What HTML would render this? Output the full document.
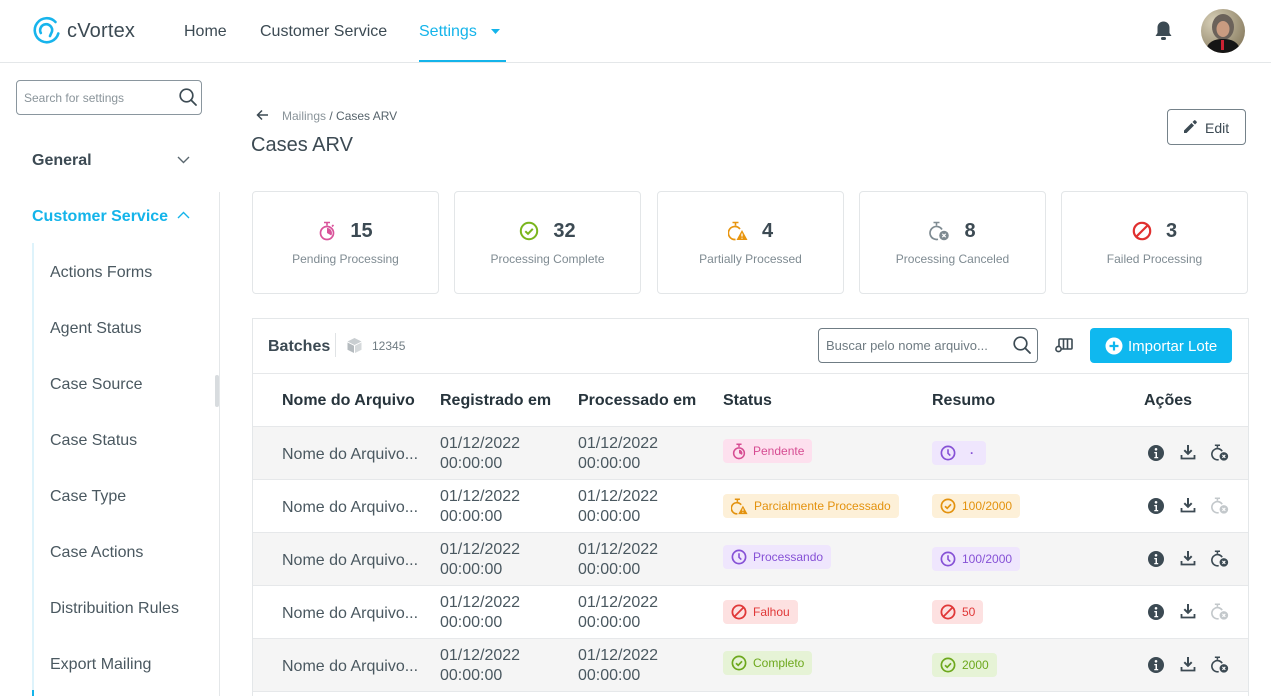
<!DOCTYPE html>
<html><head><meta charset="utf-8">
<style>
*{box-sizing:border-box;margin:0;padding:0}
html,body{width:1271px;height:696px;overflow:hidden}
body{background:#fff;font-family:"Liberation Sans",Arial,sans-serif;color:#3c4a53;position:relative}
#wrap{position:relative;width:1271px;height:696px;overflow:hidden}
.a{position:absolute;white-space:nowrap}
.hdr{position:absolute;left:0;top:0;width:1271px;height:63px;border-bottom:1px solid #e4e7e9}
.nav{font-size:16px;color:#3c4a53;top:23px}
.side-item{position:absolute;left:50px;font-size:16px;color:#4a5860}
.card{position:absolute;top:191px;width:187px;height:103px;border:1px solid #e3e6e8;border-radius:4px}
.card .row{position:absolute;left:0;right:0;top:27px;display:flex;justify-content:center;align-items:center;gap:14px;font-size:20px;font-weight:bold;color:#3c4a53;height:24px}
.card .lbl{position:absolute;left:0;right:0;top:60px;text-align:center;font-size:12px;color:#7f8b92}
.th{position:absolute;top:392px;font-size:16px;font-weight:bold;color:#27343c}
.tr{position:absolute;left:253px;width:995px;height:53px;border-bottom:1px solid #e6e8ea}
.tr.g{background:#f5f5f5}
.cell{position:absolute;font-size:16px;color:#4a5860}
.dt{position:absolute;font-size:16px;line-height:20px;color:#4a5860}
.chip{position:absolute;height:24px;display:flex;align-items:center;gap:6px;padding:0 8px;border-radius:4px;font-size:12px}
.chip svg{flex:none}
.pink{background:#fde0ee;color:#d64c92}
.org{background:#fdf0d8;color:#e3920e}
.pur{background:#efe6fd;color:#8651d6}
.red{background:#fde1e1;color:#e03838}
.grn{background:#e6f3d6;color:#6da81d}
.act{position:absolute}
</style></head><body><div id="wrap">

<!-- header -->
<div class="hdr"></div>
<svg class="a" style="left:31px;top:15px" width="31" height="31" viewBox="0 0 31 31">
  <path d="M24.5 7 A12 12 0 1 0 27.3 18.5" fill="none" stroke="#17b4ec" stroke-width="2.6" stroke-linecap="round"/>
  <path d="M9.8 18 A6 6 0 1 1 21 16.5 L19 21" fill="none" stroke="#17b4ec" stroke-width="2.6" stroke-linecap="round" stroke-linejoin="round"/>
</svg>
<div class="a" style="left:67px;top:20px;font-size:20px;color:#3c4a53;letter-spacing:0.2px">cVortex</div>
<div class="a nav" style="left:184px">Home</div>
<div class="a nav" style="left:260px">Customer Service</div>
<div class="a nav" style="left:419px;color:#14b4ea">Settings</div>
<svg class="a" style="left:491px;top:29px" width="9" height="5" viewBox="0 0 9 5"><path d="M0 0 L9 0 L4.5 5Z" fill="#14b4ea"/></svg>
<div class="a" style="left:419px;top:60px;width:87px;height:2px;background:#14b4ea"></div>
<svg class="a" style="left:1154px;top:20px" width="19" height="22" viewBox="0 0 19 22"><path d="M9.5 1.5c-3.5 0-6 2.6-6 6v5.5L1.5 16h16l-2-3V7.5c0-3.4-2.5-6-6-6z" fill="#3c4a53"/><rect x="7" y="17" width="5" height="3" rx="1.5" fill="#3c4a53"/></svg>
<svg class="a" style="left:1201px;top:9px" width="44" height="44" viewBox="0 0 44 44">
  <defs><clipPath id="cp"><circle cx="22" cy="22" r="22"/></clipPath>
  <radialGradient id="bg" cx="0.3" cy="0.3" r="0.8"><stop offset="0" stop-color="#d8d0b8"/><stop offset="1" stop-color="#8a7e62"/></radialGradient></defs>
  <g clip-path="url(#cp)">
   <rect width="44" height="44" fill="url(#bg)"/>
   <ellipse cx="22" cy="18" rx="11" ry="13" fill="#6b625a"/>
   <ellipse cx="22" cy="20" rx="6.5" ry="8" fill="#c99b80"/>
   <path d="M4 44 C6 32 14 30 22 30 C30 30 38 32 40 44Z" fill="#151515"/>
   <rect x="20" y="31" width="3" height="10" fill="#c23"/>
  </g>
</svg>

<!-- sidebar -->
<div class="a" style="left:16px;top:80px;width:186px;height:35px;border:1px solid #8a969e;border-radius:4px"></div>
<div class="a" style="left:24px;top:91px;font-size:12px;color:#8a949a">Search for settings</div>
<svg class="a" style="left:178px;top:87px" width="20" height="20" viewBox="0 0 20 20"><circle cx="8.5" cy="8.5" r="6.3" fill="none" stroke="#3c4a53" stroke-width="1.7"/><path d="M13 13 L18 18" stroke="#3c4a53" stroke-width="1.8" stroke-linecap="round"/></svg>
<div class="a" style="left:32px;top:152px;font-size:16px;font-weight:bold;color:#3c4a53">General</div>
<svg class="a" style="left:177px;top:156px" width="13" height="8" viewBox="0 0 13 8"><path d="M1 1 L6.5 6.5 L12 1" fill="none" stroke="#5a676f" stroke-width="1.4"/></svg>
<div class="a" style="left:32px;top:208px;font-size:16px;font-weight:bold;color:#14b4ea">Customer Service</div>
<svg class="a" style="left:177px;top:211px" width="13" height="8" viewBox="0 0 13 8"><path d="M1 7 L6.5 1.5 L12 7" fill="none" stroke="#14b4ea" stroke-width="1.4"/></svg>
<div class="a" style="left:219px;top:192px;width:1px;height:504px;background:#e4e7e9"></div>
<div class="a" style="left:215px;top:375px;width:4px;height:32px;background:#d8dcdf;border-radius:2px"></div>
<div class="a" style="left:32px;top:243px;width:2px;height:453px;background:#def3fb"></div>
<div class="a" style="left:32px;top:690px;width:2px;height:6px;background:#14b4ea"></div>
<div class="side-item" style="top:264px">Actions Forms</div>
<div class="side-item" style="top:320px">Agent Status</div>
<div class="side-item" style="top:376px">Case Source</div>
<div class="side-item" style="top:432px">Case Status</div>
<div class="side-item" style="top:488px">Case Type</div>
<div class="side-item" style="top:544px">Case Actions</div>
<div class="side-item" style="top:600px">Distribuition Rules</div>
<div class="side-item" style="top:656px">Export Mailing</div>

<!-- breadcrumb -->
<svg class="a" style="left:256px;top:109px" width="13" height="12" viewBox="0 0 13 12"><path d="M12 6 H2 M6 1.5 L1.5 6 L6 10.5" fill="none" stroke="#3c4a53" stroke-width="1.5"/></svg>
<div class="a" style="left:282px;top:109px;font-size:12px;color:#8a949a">Mailings <span style="color:#56636b">/ Cases ARV</span></div>
<div class="a" style="left:251px;top:134px;font-size:20px;color:#3c4a53;font-weight:500">Cases ARV</div>
<div class="a" style="left:1167px;top:109px;width:79px;height:36px;border:1px solid #75828a;border-radius:4px"></div>
<svg class="a" style="left:1183px;top:119px" width="15" height="15" viewBox="0 0 15 15"><path d="M1 11.5 L1 14 L3.5 14 L11 6.5 L8.5 4Z M9.5 3 L12 5.5 L13.5 4 C14 3.5 14 3 13.5 2.5 L12.5 1.5 C12 1 11.5 1 11 1.5Z" fill="#3c4a53"/></svg>
<div class="a" style="left:1205px;top:120px;font-size:14px;color:#3c4a53">Edit</div>

<!-- cards -->
<div class="card" style="left:252px"><div class="row">
 <svg width="18" height="20" viewBox="0 0 18 20"><path d="M6 1.5h6M9 1.5v3" stroke="#d9539a" stroke-width="1.6"/><circle cx="9" cy="12" r="6.5" fill="none" stroke="#d9539a" stroke-width="1.7"/><path d="M9 12 V7 A5 5 0 0 1 13.3 14.5Z" fill="#d9539a"/><path d="M14 5.5 l1.5 -1.5" stroke="#d9539a" stroke-width="1.6"/></svg><span>15</span></div>
 <div class="lbl">Pending Processing</div></div>
<div class="card" style="left:454px"><div class="row">
 <svg width="20" height="20" viewBox="0 0 20 20"><circle cx="10" cy="10" r="8.2" fill="none" stroke="#7ab51d" stroke-width="2"/><path d="M6.3 10.2 L9 12.8 L13.8 7.8" fill="none" stroke="#7ab51d" stroke-width="2"/></svg><span>32</span></div>
 <div class="lbl">Processing Complete</div></div>
<div class="card" style="left:657px"><div class="row">
 <svg width="20" height="20" viewBox="0 0 20 20"><path d="M4.5 1.5h6M7.5 1.5v3" stroke="#e8950f" stroke-width="1.6"/><path d="M12 8 A6.5 6.5 0 1 0 7.5 18.5" fill="none" stroke="#e8950f" stroke-width="1.7"/><path d="M14 9 L19.5 19 L8.5 19Z" fill="#e8950f"/><path d="M14 12.5v3M14 16.8v.8" stroke="#fff" stroke-width="1.3"/></svg><span>4</span></div>
 <div class="lbl">Partially Processed</div></div>
<div class="card" style="left:859px"><div class="row">
 <svg width="21" height="20" viewBox="0 0 21 20"><path d="M4.5 1.5h6M7.5 1.5v3" stroke="#7f8b92" stroke-width="1.6"/><path d="M13 8.5 A6.5 6.5 0 1 0 9 18.3" fill="none" stroke="#7f8b92" stroke-width="1.7"/><circle cx="15" cy="14.5" r="4.8" fill="#7f8b92"/><path d="M13.3 12.8l3.4 3.4M16.7 12.8l-3.4 3.4" stroke="#fff" stroke-width="1.2"/></svg><span>8</span></div>
 <div class="lbl">Processing Canceled</div></div>
<div class="card" style="left:1061px"><div class="row">
 <svg width="20" height="20" viewBox="0 0 20 20"><circle cx="10" cy="10" r="8.2" fill="none" stroke="#e0302f" stroke-width="2.2"/><path d="M4.3 15.7 L15.7 4.3" stroke="#e0302f" stroke-width="2.2"/></svg><span>3</span></div>
 <div class="lbl">Failed Processing</div></div>

<!-- table panel -->
<div class="a" style="left:252px;top:318px;width:997px;height:378px;border:1px solid #e4e7e9;border-bottom:none"></div>
<div class="a" style="left:268px;top:338px;font-size:16px;font-weight:bold;color:#3c4a53">Batches</div>
<div class="a" style="left:335px;top:333px;width:1px;height:24px;background:#e0e3e5"></div>
<svg class="a" style="left:346px;top:337px" width="17" height="17" viewBox="0 0 17 17"><path d="M8.5 1 L15.5 4.5 L8.5 8 L1.5 4.5Z" fill="#c9ced1"/><path d="M1.5 5.5 L8 8.8 V16 L1.5 12.7Z" fill="#b5bbbf"/><path d="M15.5 5.5 L9 8.8 V16 L15.5 12.7Z" fill="#d5d9db"/></svg>
<div class="a" style="left:372px;top:339px;font-size:12px;color:#6f7b82">12345</div>
<div class="a" style="left:818px;top:328px;width:220px;height:35px;border:1px solid #6f7c84;border-radius:4px"></div>
<div class="a" style="left:826px;top:338px;font-size:13px;color:#6f7b82">Buscar pelo nome arquivo...</div>
<svg class="a" style="left:1012px;top:335px" width="20" height="20" viewBox="0 0 20 20"><circle cx="8.5" cy="8.5" r="6.3" fill="none" stroke="#3c4a53" stroke-width="1.7"/><path d="M13 13 L18 18" stroke="#3c4a53" stroke-width="1.8" stroke-linecap="round"/></svg>
<svg class="a" style="left:1055px;top:337px" width="18" height="16" viewBox="0 0 18 16"><rect x="4" y="2" width="13" height="10" rx="1" fill="none" stroke="#3c4a53" stroke-width="1.6"/><path d="M8.5 2v10M12.5 2v10" stroke="#3c4a53" stroke-width="1.6"/><circle cx="3.5" cy="12" r="2.6" fill="#fff" stroke="#3c4a53" stroke-width="1.6"/></svg>
<div class="a" style="left:1090px;top:328px;width:142px;height:35px;background:#0fb8ef;border-radius:4px"></div>
<svg class="a" style="left:1105px;top:337px" width="18" height="18" viewBox="0 0 18 18"><circle cx="9" cy="9" r="8.5" fill="#fff"/><path d="M9 4.5v9M4.5 9h9" stroke="#0fb8ef" stroke-width="2.2"/></svg>
<div class="a" style="left:1128px;top:338px;font-size:15px;font-weight:500;color:#fff">Importar Lote</div>
<div class="a" style="left:253px;top:373px;width:995px;height:1px;background:#e6e8ea"></div>

<div class="th" style="left:282px">Nome do Arquivo</div>
<div class="th" style="left:440px">Registrado em</div>
<div class="th" style="left:578px">Processado em</div>
<div class="th" style="left:723px">Status</div>
<div class="th" style="left:932px">Resumo</div>
<div class="th" style="left:1144px">Ações</div>
<div class="a" style="left:253px;top:426px;width:995px;height:1px;background:#e6e8ea"></div>

<div class="tr g" style="top:427px"></div>
<div class="tr" style="top:480px"></div>
<div class="tr g" style="top:533px"></div>
<div class="tr" style="top:586px"></div>
<div class="tr g" style="top:639px"></div>

<!-- rows text -->
<div class="cell a" style="left:282px;top:446px">Nome do Arquivo...</div>
<div class="dt a" style="left:440px;top:434px">01/12/2022<br>00:00:00</div>
<div class="dt a" style="left:578px;top:434px">01/12/2022<br>00:00:00</div>
<div class="cell a" style="left:282px;top:499px">Nome do Arquivo...</div>
<div class="dt a" style="left:440px;top:487px">01/12/2022<br>00:00:00</div>
<div class="dt a" style="left:578px;top:487px">01/12/2022<br>00:00:00</div>
<div class="cell a" style="left:282px;top:552px">Nome do Arquivo...</div>
<div class="dt a" style="left:440px;top:540px">01/12/2022<br>00:00:00</div>
<div class="dt a" style="left:578px;top:540px">01/12/2022<br>00:00:00</div>
<div class="cell a" style="left:282px;top:605px">Nome do Arquivo...</div>
<div class="dt a" style="left:440px;top:593px">01/12/2022<br>00:00:00</div>
<div class="dt a" style="left:578px;top:593px">01/12/2022<br>00:00:00</div>
<div class="cell a" style="left:282px;top:658px">Nome do Arquivo...</div>
<div class="dt a" style="left:440px;top:646px">01/12/2022<br>00:00:00</div>
<div class="dt a" style="left:578px;top:646px">01/12/2022<br>00:00:00</div>

<!-- status chips -->
<div class="chip pink" style="left:723px;top:439px"><svg width="16" height="17" viewBox="0 0 18 20"><path d="M6 1.5h6M9 1.5v3" stroke="#d64c92" stroke-width="1.8"/><circle cx="9" cy="12" r="6.3" fill="none" stroke="#d64c92" stroke-width="1.8"/><path d="M9 12 V8 A4 4 0 0 1 12.5 14Z" fill="#d64c92"/></svg>Pendente</div>
<div class="chip org" style="left:723px;top:494px"><svg width="17" height="17" viewBox="0 0 20 20"><path d="M4.5 1.5h6M7.5 1.5v3" stroke="#e3920e" stroke-width="1.8"/><path d="M12 8 A6.5 6.5 0 1 0 7.5 18.5" fill="none" stroke="#e3920e" stroke-width="1.9"/><path d="M14 9 L19.5 19 L8.5 19Z" fill="#e3920e"/><path d="M14 12.5v3M14 16.8v.8" stroke="#fdf0d8" stroke-width="1.3"/></svg>Parcialmente Processado</div>
<div class="chip pur" style="left:723px;top:545px"><svg width="16" height="16" viewBox="0 0 16 16"><circle cx="8" cy="8" r="6.6" fill="none" stroke="#8651d6" stroke-width="1.7"/><path d="M8 4.3V8.3L10.3 10.6" fill="none" stroke="#8651d6" stroke-width="1.6"/></svg>Processando</div>
<div class="chip red" style="left:723px;top:600px"><svg width="16" height="16" viewBox="0 0 16 16"><circle cx="8" cy="8" r="6.6" fill="none" stroke="#e03838" stroke-width="1.8"/><path d="M3.4 12.6 L12.6 3.4" stroke="#e03838" stroke-width="1.8"/></svg>Falhou</div>
<div class="chip grn" style="left:723px;top:651px"><svg width="16" height="16" viewBox="0 0 16 16"><circle cx="8" cy="8" r="6.6" fill="none" stroke="#6da81d" stroke-width="1.7"/><path d="M5 8.2 L7.2 10.3 L11 6.3" fill="none" stroke="#6da81d" stroke-width="1.7"/></svg>Completo</div>

<!-- resumo chips -->
<div class="chip pur" style="left:932px;top:441px;width:54px"><svg width="16" height="16" viewBox="0 0 16 16"><circle cx="8" cy="8" r="6.6" fill="none" stroke="#8651d6" stroke-width="1.7"/><path d="M8 4.3V8.3L10.3 10.6" fill="none" stroke="#8651d6" stroke-width="1.6"/></svg><span style="margin-left:8px;font-weight:bold">·</span></div>
<div class="chip org" style="left:932px;top:494px"><svg width="16" height="16" viewBox="0 0 16 16"><circle cx="8" cy="8" r="6.6" fill="none" stroke="#e3920e" stroke-width="1.7"/><path d="M5 8.2 L7.2 10.3 L11 6.3" fill="none" stroke="#e3920e" stroke-width="1.7"/></svg>100/2000</div>
<div class="chip pur" style="left:932px;top:547px"><svg width="16" height="16" viewBox="0 0 16 16"><circle cx="8" cy="8" r="6.6" fill="none" stroke="#8651d6" stroke-width="1.7"/><path d="M8 4.3V8.3L10.3 10.6" fill="none" stroke="#8651d6" stroke-width="1.6"/></svg>100/2000</div>
<div class="chip red" style="left:932px;top:600px"><svg width="16" height="16" viewBox="0 0 16 16"><circle cx="8" cy="8" r="6.6" fill="none" stroke="#e03838" stroke-width="1.8"/><path d="M3.4 12.6 L12.6 3.4" stroke="#e03838" stroke-width="1.8"/></svg>50</div>
<div class="chip grn" style="left:932px;top:653px"><svg width="16" height="16" viewBox="0 0 16 16"><circle cx="8" cy="8" r="6.6" fill="none" stroke="#6da81d" stroke-width="1.7"/><path d="M5 8.2 L7.2 10.3 L11 6.3" fill="none" stroke="#6da81d" stroke-width="1.7"/></svg>2000</div>

<!-- action icons -->
<svg width="0" height="0" style="position:absolute">
 <defs>
  <g id="info"><circle cx="8" cy="8" r="8" fill="#3c4a53"/><circle cx="8" cy="4.3" r="1.3" fill="#fff"/><path d="M6.3 7h2.7v5h1.2v1.3H6.3V12h1.2V8.3H6.3Z" fill="#fff"/></g>
  <g id="dl"><path d="M8 1v8.5M4.3 6.2 L8 9.8 L11.7 6.2" fill="none" stroke="#3c4a53" stroke-width="2"/><path d="M1.5 11v3.5h13V11" fill="none" stroke="#3c4a53" stroke-width="1.8"/></g>
 </defs>
</svg>
<div class="act" style="left:1148px;top:445px"><svg width="16" height="16"><use href="#info"/></svg></div>
<div class="act" style="left:1180px;top:444px"><svg width="16" height="16"><use href="#dl"/></svg></div>
<div class="act" style="left:1148px;top:498px"><svg width="16" height="16"><use href="#info"/></svg></div>
<div class="act" style="left:1180px;top:497px"><svg width="16" height="16"><use href="#dl"/></svg></div>
<div class="act" style="left:1148px;top:551px"><svg width="16" height="16"><use href="#info"/></svg></div>
<div class="act" style="left:1180px;top:550px"><svg width="16" height="16"><use href="#dl"/></svg></div>
<div class="act" style="left:1148px;top:604px"><svg width="16" height="16"><use href="#info"/></svg></div>
<div class="act" style="left:1180px;top:603px"><svg width="16" height="16"><use href="#dl"/></svg></div>
<div class="act" style="left:1148px;top:657px"><svg width="16" height="16"><use href="#info"/></svg></div>
<div class="act" style="left:1180px;top:656px"><svg width="16" height="16"><use href="#dl"/></svg></div>

<!-- cancel timers -->
<svg class="act" style="left:1211px;top:443px" width="18" height="19" viewBox="0 0 21 20"><path d="M4.5 1.5h6M7.5 1.5v3" stroke="#3c4a53" stroke-width="1.8"/><path d="M13 8.5 A6.5 6.5 0 1 0 9 18.3" fill="none" stroke="#3c4a53" stroke-width="1.9"/><circle cx="15" cy="14.5" r="5" fill="#3c4a53"/><path d="M13.3 12.8l3.4 3.4M16.7 12.8l-3.4 3.4" stroke="#fff" stroke-width="1.3"/></svg>
<svg class="act" style="left:1211px;top:496px" width="18" height="19" viewBox="0 0 21 20"><path d="M4.5 1.5h6M7.5 1.5v3" stroke="#c3c8cb" stroke-width="1.8"/><path d="M13 8.5 A6.5 6.5 0 1 0 9 18.3" fill="none" stroke="#c3c8cb" stroke-width="1.9"/><circle cx="15" cy="14.5" r="5" fill="#c3c8cb"/><path d="M13.3 12.8l3.4 3.4M16.7 12.8l-3.4 3.4" stroke="#fff" stroke-width="1.3"/></svg>
<svg class="act" style="left:1211px;top:549px" width="18" height="19" viewBox="0 0 21 20"><path d="M4.5 1.5h6M7.5 1.5v3" stroke="#3c4a53" stroke-width="1.8"/><path d="M13 8.5 A6.5 6.5 0 1 0 9 18.3" fill="none" stroke="#3c4a53" stroke-width="1.9"/><circle cx="15" cy="14.5" r="5" fill="#3c4a53"/><path d="M13.3 12.8l3.4 3.4M16.7 12.8l-3.4 3.4" stroke="#fff" stroke-width="1.3"/></svg>
<svg class="act" style="left:1211px;top:602px" width="18" height="19" viewBox="0 0 21 20"><path d="M4.5 1.5h6M7.5 1.5v3" stroke="#c3c8cb" stroke-width="1.8"/><path d="M13 8.5 A6.5 6.5 0 1 0 9 18.3" fill="none" stroke="#c3c8cb" stroke-width="1.9"/><circle cx="15" cy="14.5" r="5" fill="#c3c8cb"/><path d="M13.3 12.8l3.4 3.4M16.7 12.8l-3.4 3.4" stroke="#fff" stroke-width="1.3"/></svg>
<svg class="act" style="left:1211px;top:655px" width="18" height="19" viewBox="0 0 21 20"><path d="M4.5 1.5h6M7.5 1.5v3" stroke="#3c4a53" stroke-width="1.8"/><path d="M13 8.5 A6.5 6.5 0 1 0 9 18.3" fill="none" stroke="#3c4a53" stroke-width="1.9"/><circle cx="15" cy="14.5" r="5" fill="#3c4a53"/><path d="M13.3 12.8l3.4 3.4M16.7 12.8l-3.4 3.4" stroke="#fff" stroke-width="1.3"/></svg>

</div></body></html>
